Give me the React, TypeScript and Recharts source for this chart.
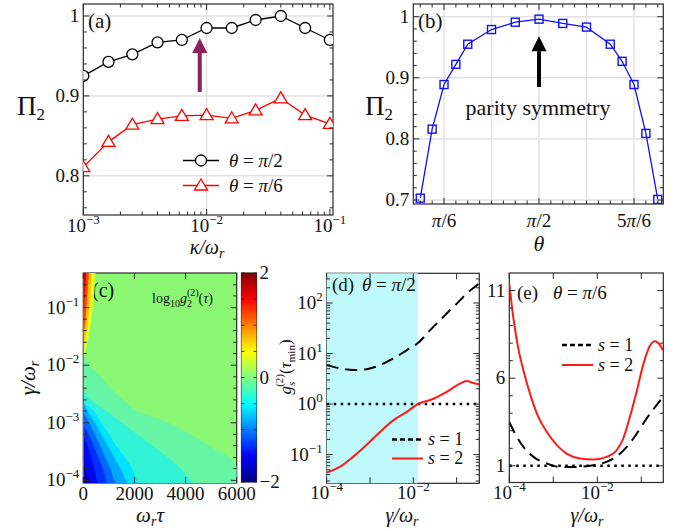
import React from "react";
import {
  ComposedChart,
  Line,
  Area,
  XAxis,
  YAxis,
  CartesianGrid,
  ReferenceLine,
  ReferenceArea,
  Legend,
} from "recharts";

const W = 688;
const H = 531;
const FONT = "'Liberation Serif', 'Times New Roman', serif";
const INK = "#111";
const FRAME = "#2a2a2a";

// (a) Pi_2 against kappa/omega_r
const kappa = [0.001, 0.0016, 0.0025, 0.004, 0.0063, 0.01, 0.016, 0.025, 0.04, 0.063, 0.1];
const piHalfA = [0.925, 0.9425, 0.952, 0.967, 0.97, 0.985, 0.985, 0.995, 1.0, 0.985, 0.97];
const piSixthA = [0.811, 0.8425, 0.864, 0.871, 0.875, 0.876, 0.872, 0.882, 0.897, 0.876, 0.865];
const aXTicks = [0.001, 0.002, 0.003, 0.004, 0.005, 0.006, 0.007, 0.008, 0.009, 0.01, 0.02, 0.03, 0.04, 0.05, 0.06, 0.07, 0.08, 0.09, 0.1];
const aYTicks = [0.76, 0.78, 0.8, 0.82, 0.84, 0.86, 0.88, 0.9, 0.92, 0.94, 0.96, 0.98, 1];

// (b) Pi_2 against theta (degrees)
const thetaDeg = [15, 22.5, 30, 37.5, 45, 60, 75, 90, 105, 120, 135, 142.5, 150, 157.5, 165];
const piB = [0.703, 0.816, 0.889, 0.922, 0.955, 0.979, 0.991, 0.996, 0.989, 0.983, 0.955, 0.927, 0.889, 0.809, 0.701];
const bXTicks = [15, 22.5, 30, 37.5, 45, 52.5, 60, 67.5, 75, 82.5, 90, 97.5, 105, 112.5, 120, 127.5, 135, 142.5, 150, 157.5, 165];
const bYTicks = [0.7, 0.72, 0.74, 0.76, 0.78, 0.8, 0.82, 0.84, 0.86, 0.88, 0.9, 0.92, 0.94, 0.96, 0.98, 1];

// (c) contour levels of log10 g2(tau): for each gamma row, tau where the level is crossed
const heatGamma = [0.00009, 0.0001, 0.00016, 0.00025, 0.0004, 0.00063, 0.001, 0.0016, 0.0025, 0.004, 0.0063, 0.01, 0.016, 0.025, 0.04, 0.063, 0.1, 0.16, 0.25, 0.4];
const lvA = [6000, 6000, 6000, 5700, 4880, 4180, 3300, 2100, 1550, 1050, 690, 220, 60, 0, 0, 0, 0, 0, 0, 0];
const lvB = [4300, 4200, 3800, 3300, 2700, 2100, 1500, 900, 300, 0, 0, 0, 0, 0, 0, 0, 0, 0, 0, 0];
const lvC = [2150, 2100, 1900, 1630, 1280, 1000, 700, 400, 0, 0, 0, 0, 0, 0, 0, 0, 0, 0, 0, 0];
const lvD = [1700, 1650, 1450, 1200, 950, 700, 450, 150, 0, 0, 0, 0, 0, 0, 0, 0, 0, 0, 0, 0];
const lvE = [1250, 1200, 1050, 850, 650, 440, 220, 0, 0, 0, 0, 0, 0, 0, 0, 0, 0, 0, 0, 0];
const lvF = [900, 880, 750, 580, 400, 200, 0, 0, 0, 0, 0, 0, 0, 0, 0, 0, 0, 0, 0, 0];
const lvG = [540, 520, 420, 300, 160, 0, 0, 0, 0, 0, 0, 0, 0, 0, 0, 0, 0, 0, 0, 0];
const lvH = [280, 250, 60, 0, 0, 0, 0, 0, 0, 0, 0, 0, 0, 0, 0, 0, 0, 0, 0, 0];
const lvR1 = [0, 0, 0, 0, 0, 0, 0, 0, 0, 0, 0, 0, 50, 160, 240, 310, 360, 410, 440, 470];
const lvR2 = [0, 0, 0, 0, 0, 0, 0, 0, 0, 0, 0, 0, 0, 50, 130, 180, 230, 275, 295, 310];
const lvR3 = [0, 0, 0, 0, 0, 0, 0, 0, 0, 0, 0, 0, 0, 0, 20, 80, 110, 150, 180, 210];
const lvR4 = [0, 0, 0, 0, 0, 0, 0, 0, 0, 0, 0, 0, 0, 0, 0, 0, 10, 45, 70, 100];
const heatLevels = [
  { key: "A", vals: lvA, color: "#66f6a6" },
  { key: "B", vals: lvB, color: "#33f3d6" },
  { key: "C", vals: lvC, color: "#00e4ff" },
  { key: "D", vals: lvD, color: "#00a8ff" },
  { key: "E", vals: lvE, color: "#0068ff" },
  { key: "F", vals: lvF, color: "#0030ff" },
  { key: "G", vals: lvG, color: "#0008ee" },
  { key: "H", vals: lvH, color: "#0000b8" },
  { key: "R1", vals: lvR1, color: "#dcff26" },
  { key: "R2", vals: lvR2, color: "#ffc000" },
  { key: "R3", vals: lvR3, color: "#ff4400" },
  { key: "R4", vals: lvR4, color: "#cc0000" },
];
const cYTicks = [0.0001, 0.00016, 0.00025, 0.0004, 0.00063, 0.001, 0.0016, 0.0025, 0.004, 0.0063, 0.01, 0.016, 0.025, 0.04, 0.063, 0.1, 0.16, 0.25];
const cXTicks = [0, 2000, 4000, 6000];
const barTicks = [-2, -1.5, -1, -0.5, 0, 0.5, 1, 1.5, 2];
const barSpan = [{ x: 0, top: 2 }, { x: 1, top: 2 }];

// (d) theta = pi/2
const dGamma = [0.0001, 0.0002, 0.00041, 0.00083, 0.0017, 0.0035, 0.0071, 0.0126, 0.0245, 0.059, 0.126, 0.17, 0.24, 0.33];
const dS1 = [5.9, 5.1, 4.7, 4.9, 5.9, 8.0, 11.7, 15.9, 29, 62, 118, 155, 195, 245];
const dS2 = [0.044, 0.057, 0.091, 0.155, 0.28, 0.48, 0.7, 1.0, 1.2, 1.75, 2.6, 2.85, 2.6, 2.45];
const dYTicks = [0.03, 0.04, 0.05, 0.06, 0.07, 0.08, 0.09, 0.1, 0.2, 0.3, 0.4, 0.5, 0.6, 0.7, 0.8, 0.9, 1, 2, 3, 4, 5, 6, 7, 8, 9, 10, 20, 30, 40, 50, 60, 70, 80, 90, 100, 200, 300];
const decTicks = [0.0001, 0.001, 0.01, 0.1];

// (e) theta = pi/6
const eGammaS2 = [0.0001, 0.000123, 0.000158, 0.000209, 0.000295, 0.000457, 0.000708, 0.0012, 0.002, 0.00407, 0.00813, 0.0162, 0.0275, 0.0389, 0.055, 0.0794, 0.112, 0.158, 0.204, 0.269, 0.31];
const eS2 = [11.38, 9.48, 7.77, 6.45, 5.12, 3.79, 2.94, 2.18, 1.7, 1.42, 1.36, 1.51, 1.89, 2.56, 3.79, 5.3, 6.83, 7.87, 8.11, 7.87, 7.59];
const eGammaS1 = [0.0001, 0.000148, 0.000209, 0.000355, 0.000708, 0.00141, 0.00339, 0.00813, 0.0162, 0.0331, 0.0661, 0.132, 0.31];
const eS1 = [3.5, 2.65, 2.08, 1.51, 1.14, 0.94, 0.94, 1.04, 1.23, 1.7, 2.56, 3.7, 4.93];
const eYTicks = [1, 2, 3, 4, 5, 6, 7, 8, 9, 10, 11];

type Fr = { l: number; r: number; t: number; b: number };
type Lab = (v: number) => React.ReactNode | null;

const pow = (e: number) => (
  <>
    <tspan>10</tspan>
    <tspan dy={-8} fontSize={13}>{e < 0 ? "\u2212" + -e : String(e)}</tspan>
  </>
);
const it = (s: string) => <tspan fontStyle="italic">{s}</tspan>;

const labeler = (pairs: [number, React.ReactNode][]): Lab => (v) => {
  const hit = pairs.find((p) => p[0] === v);
  return hit ? hit[1] : null;
};

const XTick = (props: any) => {
  const { x, payload, fr, lab, dy = 17 } = props;
  const node = lab(payload.value);
  const len = node !== null ? 6 : 3.5;
  return (
    <g>
      <line x1={x} x2={x} y1={fr.b} y2={fr.b - len} stroke={FRAME} />
      <line x1={x} x2={x} y1={fr.t} y2={fr.t + len} stroke={FRAME} />
      {node ? (
        <text x={x} y={fr.b + dy} textAnchor="middle" fontFamily={FONT} fontSize={19} fill={INK}>
          {node}
        </text>
      ) : null}
    </g>
  );
};

const YTick = (props: any) => {
  const { y, payload, fr, lab } = props;
  const node = lab(payload.value);
  const len = node !== null ? 6 : 3.5;
  return (
    <g>
      <line x1={fr.l} x2={fr.l + len} y1={y} y2={y} stroke={FRAME} />
      <line x1={fr.r} x2={fr.r - len} y1={y} y2={y} stroke={FRAME} />
      {node ? (
        <text x={fr.l - 4} y={y + 6} textAnchor="end" fontFamily={FONT} fontSize={19} fill={INK}>
          {node}
        </text>
      ) : null}
    </g>
  );
};

const BarTick = (props: any) => {
  const { y, payload, fr } = props;
  const v = payload.value;
  const show = v === -2 || v === 0 || v === 2;
  return (
    <g>
      <line x1={fr.l} x2={fr.l + 3} y1={y} y2={y} stroke={FRAME} />
      <line x1={fr.r} x2={fr.r - 3} y1={y} y2={y} stroke={FRAME} />
      {show ? (
        <text x={fr.r + 3} y={y + 6} fontFamily={FONT} fontSize={19} fill={INK}>
          {v < 0 ? "\u2212" + -v : String(v)}
        </text>
      ) : null}
    </g>
  );
};

const Box = ({ fr }: { fr: Fr }) => (
  <rect x={fr.l} y={fr.t} width={fr.r - fr.l} height={fr.b - fr.t} fill="none" stroke={FRAME} strokeWidth={1.2} />
);

const arrowShape = (color: string) => (p: any) => {
  const tipY = Math.min(p.y1, p.y2);
  const baseY = Math.max(p.y1, p.y2);
  const x = p.x1;
  const neck = tipY + 15;
  return (
    <g>
      <line x1={x} x2={x} y1={baseY} y2={neck} stroke={color} strokeWidth={4} />
      <polygon points={`${x - 7.5},${neck} ${x + 7.5},${neck} ${x},${tipY}`} fill={color} />
    </g>
  );
};

const Circ = (p: any) => (
  <circle key={p.index} cx={p.cx} cy={p.cy} r={5.5} fill="#fff" stroke="#000" strokeWidth={1.3} />
);
const Tri = (p: any) => (
  <path
    key={p.index}
    d={`M${p.cx},${p.cy - 6.5} L${p.cx + 6.5},${p.cy + 4.5} L${p.cx - 6.5},${p.cy + 4.5} Z`}
    fill="#fff"
    stroke="#ff0000"
    strokeWidth={1.3}
  />
);
const Sq = (p: any) => (
  <rect key={p.index} x={p.cx - 4} y={p.cy - 4} width={8} height={8} fill="none" stroke="#1010ff" strokeWidth={1.4} />
);

// legend drawn as an html overlay by recharts' Legend
type Row = { sample: React.ReactNode; label: React.ReactNode };
const LegendRows = ({ rows, h, sw, gap, fs }: { rows: Row[]; h: number; sw: number; gap: number; fs: number }) => (
  <div>
    {rows.map((r, i) => (
      <div key={i} style={{ display: "flex", alignItems: "center", height: h }}>
        <svg width={sw} height={h} style={{ display: "block" }}>{r.sample}</svg>
        <span style={{ fontFamily: FONT, fontSize: fs, color: INK, marginLeft: gap, lineHeight: 1, whiteSpace: "nowrap" }}>{r.label}</span>
      </div>
    ))}
  </div>
);

const XH = 30;
const YW = 40;
const marginFor = (fr: Fr) => ({ top: fr.t, bottom: H - fr.b - XH, left: fr.l - YW, right: W - fr.r });
const abs: React.CSSProperties = { position: "absolute", left: 0, top: 0 };
const txt = { fontFamily: FONT, fill: INK } as const;

function PanelA() {
  const fr = { l: 83.3, r: 333, t: 4, b: 215 };
  const data = kappa.map((k, i) => ({ k, h: piHalfA[i], s: piSixthA[i] }));
  const xl = labeler([[0.001, pow(-3)], [0.01, pow(-2)], [0.1, pow(-1)]]);
  const yl = labeler([[0.8, "0.8"], [0.9, "0.9"], [1, "1"]]);
  const rows: Row[] = [
    {
      sample: (
        <>
          <line x1={0} x2={36} y1={12.5} y2={12.5} stroke="#000" strokeWidth={1.3} />
          <circle cx={18} cy={12.5} r={5.5} fill="#fff" stroke="#000" strokeWidth={1.3} />
        </>
      ),
      label: <><i>θ</i> = <i>π</i>/2</>,
    },
    {
      sample: (
        <>
          <line x1={0} x2={36} y1={12.5} y2={12.5} stroke="#ff0000" strokeWidth={1.3} />
          <path d="M18,6 L24.5,17 L11.5,17 Z" fill="#fff" stroke="#ff0000" strokeWidth={1.3} />
        </>
      ),
      label: <><i>θ</i> = <i>π</i>/6</>,
    },
  ];
  return (
    <ComposedChart width={W} height={H} data={data} margin={marginFor(fr)}>
      <CartesianGrid stroke="#e2e2e2" strokeWidth={1.5} horizontalValues={[0.8, 0.9, 1]} verticalValues={[0.01]} />
      <XAxis dataKey="k" type="number" scale="log" domain={[0.001, 0.106]} allowDataOverflow ticks={aXTicks} interval={0} height={XH} tickLine={false} axisLine={false} tick={<XTick fr={fr} lab={xl} />} />
      <YAxis type="number" domain={[0.751, 1.015]} allowDataOverflow ticks={aYTicks} interval={0} width={YW} tickLine={false} axisLine={false} tick={<YTick fr={fr} lab={yl} />} />
      <ReferenceLine segment={[{ x: 0.0088, y: 0.905 }, { x: 0.0088, y: 0.9725 }]} shape={arrowShape("#8c1f5c")} />
      <Line dataKey="h" type="linear" stroke="#000" strokeWidth={1.3} dot={Circ} isAnimationActive={false} />
      <Line dataKey="s" type="linear" stroke="#ff0000" strokeWidth={1.3} dot={Tri} isAnimationActive={false} />
      <Legend
        layout="vertical"
        align="center"
        verticalAlign="middle"
        wrapperStyle={{ left: 183, top: 148, width: "auto", height: "auto" }}
        content={() => <LegendRows rows={rows} h={25} sw={36} gap={10} fs={19} />}
      />
      <Box fr={fr} />
      <text x={88} y={28} fontSize={21} {...txt}>(a)</text>
      <text x={17} y={115} fontSize={27} {...txt}>Π<tspan dy={5} fontSize={17}>2</tspan></text>
      <text x={207} y={254} textAnchor="middle" fontSize={20} {...txt}>{it("κ/ω")}<tspan dy={4} fontSize={14} fontStyle="italic">r</tspan></text>
    </ComposedChart>
  );
}

function PanelB() {
  const fr = { l: 413.3, r: 663.3, t: 4, b: 204 };
  const data = thetaDeg.map((t, i) => ({ t, p: piB[i] }));
  const xl = labeler([[30, <>{it("π")}/6</>], [90, <>{it("π")}/2</>], [150, <>5{it("π")}/6</>]]);
  const yl = labeler([[0.7, "0.7"], [0.8, "0.8"], [0.9, "0.9"], [1, "1"]]);
  return (
    <ComposedChart width={W} height={H} data={data} margin={marginFor(fr)}>
      <CartesianGrid stroke="#e2e2e2" strokeWidth={1.5} horizontalValues={[0.7, 0.8, 0.9, 1]} verticalValues={[30, 60, 90, 120, 150]} />
      <XAxis dataKey="t" type="number" domain={[10.6, 168.5]} allowDataOverflow ticks={bXTicks} interval={0} height={XH} tickLine={false} axisLine={false} tick={<XTick fr={fr} lab={xl} dy={23} />} />
      <YAxis type="number" domain={[0.6935, 1.0208]} allowDataOverflow ticks={bYTicks} interval={0} width={YW} tickLine={false} axisLine={false} tick={<YTick fr={fr} lab={yl} />} />
      <ReferenceLine segment={[{ x: 90, y: 0.885 }, { x: 90, y: 0.968 }]} shape={arrowShape("#000")} />
      <Line dataKey="p" type="linear" stroke="#1010ff" strokeWidth={1.3} dot={Sq} isAnimationActive={false} />
      <Box fr={fr} />
      <text x={418} y={28} fontSize={21} {...txt}>(b)</text>
      <text x={538} y={115} textAnchor="middle" fontSize={22} {...txt}>parity symmetry</text>
      <text x={365} y={115} fontSize={27} {...txt}>Π<tspan dy={5} fontSize={17}>2</tspan></text>
      <text x={539} y={251} textAnchor="middle" fontSize={22} {...txt}>{it("θ")}</text>
    </ComposedChart>
  );
}

function PanelC() {
  const fr = { l: 83.3, r: 236.7, t: 273, b: 483 };
  const data = heatGamma.map((g, i) => {
    const row: Record<string, number> = { g };
    heatLevels.forEach((lv) => (row[lv.key] = lv.vals[i]));
    return row;
  });
  const xl = labeler([[0, "0"], [2000, "2000"], [4000, "4000"], [6000, "6000"]]);
  const yl = labeler([[0.0001, pow(-4)], [0.001, pow(-3)], [0.01, pow(-2)], [0.1, pow(-1)]]);
  return (
    <ComposedChart width={W} height={H} data={data} layout="vertical" margin={marginFor(fr)}>
      <CartesianGrid fill="#8bf874" horizontal={false} vertical={false} />
      <XAxis type="number" domain={[0, 6000]} allowDataOverflow ticks={cXTicks} interval={0} height={XH} tickLine={false} axisLine={false} tick={<XTick fr={fr} lab={xl} dy={17} />} />
      <YAxis type="number" dataKey="g" scale="log" reversed domain={[0.00009, 0.4]} allowDataOverflow ticks={cYTicks} interval={0} width={YW} tickLine={false} axisLine={false} tick={<YTick fr={fr} lab={yl} />} />
      {heatLevels.map((lv) => (
        <Area key={lv.key} dataKey={lv.key} type="monotone" fill={lv.color} fillOpacity={1} stroke={lv.color} strokeWidth={0.5} dot={false} activeDot={false} isAnimationActive={false} />
      ))}
      <Box fr={fr} />
      <text x={92} y={297} fontSize={20} {...txt}>(c)</text>
      <text x={152} y={303} fontSize={14} {...txt}>
        log<tspan dy={4} fontSize={10}>10</tspan>
        <tspan dy={-4} fontStyle="italic">g</tspan>
        <tspan dy={4} fontSize={10}>2</tspan>
        <tspan dx={-5} dy={-11} fontSize={10}>(2)</tspan>
        <tspan dy={7}>(</tspan>
        <tspan fontStyle="italic">τ</tspan>)
      </text>
      <text x={150} y={522} textAnchor="middle" fontSize={21} {...txt}>
        {it("ω")}<tspan dy={4} fontSize={14} fontStyle="italic">r</tspan><tspan dy={-4} fontStyle="italic">τ</tspan>
      </text>
      <text x={35} y={378} textAnchor="middle" fontSize={21} transform="rotate(-90 35 378)" {...txt}>
        {it("γ/ω")}<tspan dy={4} fontSize={14} fontStyle="italic">r</tspan>
      </text>
    </ComposedChart>
  );
}

function ColorBar() {
  const fr = { l: 241.5, r: 256.5, t: 273, b: 482 };
  return (
    <ComposedChart width={W} height={H} data={barSpan} margin={{ top: fr.t, bottom: H - fr.b, left: fr.l, right: W - fr.r - YW }}>
      <defs>
        <linearGradient id="jet" x1="0" y1="1" x2="0" y2="0">
          <stop offset="0" stopColor="#000080" />
          <stop offset="0.125" stopColor="#0000ff" />
          <stop offset="0.375" stopColor="#00ffff" />
          <stop offset="0.5" stopColor="#80ff80" />
          <stop offset="0.625" stopColor="#ffff00" />
          <stop offset="0.875" stopColor="#ff0000" />
          <stop offset="1" stopColor="#800000" />
        </linearGradient>
      </defs>
      <XAxis dataKey="x" type="number" domain={[0, 1]} hide />
      <YAxis type="number" orientation="right" domain={[-2, 2]} allowDataOverflow ticks={barTicks} interval={0} width={YW} tickLine={false} axisLine={false} tick={<BarTick fr={fr} />} />
      <Area dataKey="top" type="linear" baseValue={-2} fill="url(#jet)" fillOpacity={1} stroke="none" dot={false} activeDot={false} isAnimationActive={false} />
      <Box fr={fr} />
    </ComposedChart>
  );
}

const dLegend: Row[] = [
  { sample: <line x1={0} x2={31} y1={9.5} y2={9.5} stroke="#000" strokeWidth={2.5} strokeDasharray="5 3" />, label: <><i>s</i> = 1</> },
  { sample: <line x1={0} x2={31} y1={9.5} y2={9.5} stroke="#ff1a1a" strokeWidth={2} />, label: <><i>s</i> = 2</> },
];

// title of panel (d), drawn in the shaded area's label layer so it sits above the shading
const DTitle = () => (
  <g>
    <text x={332} y={291} fontSize={19} {...txt}>(d)</text>
    <text x={362} y={291} fontSize={19} {...txt}>{it("θ")} = {it("π")}/2</text>
  </g>
);

function PanelD() {
  const fr = { l: 326.7, r: 479.3, t: 273.3, b: 483.3 };
  const s1 = dGamma.map((g, i) => ({ g, v: dS1[i] }));
  const s2 = dGamma.map((g, i) => ({ g, v: dS2[i] }));
  const xl = labeler([[0.0001, pow(-4)], [0.001, ""], [0.01, pow(-2)], [0.1, ""]]);
  const yl = labeler([[0.1, pow(-1)], [1, pow(0)], [10, pow(1)], [100, pow(2)]]);
  return (
    <ComposedChart width={W} height={H} margin={marginFor(fr)}>
      <XAxis dataKey="g" type="number" scale="log" domain={[0.0001, 0.334]} allowDataOverflow ticks={decTicks} interval={0} height={XH} tickLine={false} axisLine={false} tick={<XTick fr={fr} lab={xl} dy={16} />} />
      <YAxis type="number" scale="log" domain={[0.027, 387]} allowDataOverflow ticks={dYTicks} interval={0} width={YW} tickLine={false} axisLine={false} tick={<YTick fr={fr} lab={yl} />} />
      <ReferenceArea x1={0.0001} x2={0.0128} y1={0.027} y2={387} fill="#bff9fa" fillOpacity={1} stroke="none" label={<DTitle />} />
      <ReferenceLine y={1} stroke="#000" strokeWidth={2.5} strokeDasharray="2.5 4.5" />
      <Line data={s1} dataKey="v" type="monotone" stroke="#000" strokeWidth={2} strokeDasharray="12 7" dot={false} isAnimationActive={false} />
      <Line data={s2} dataKey="v" type="monotone" stroke="#ff1a1a" strokeWidth={2} dot={false} isAnimationActive={false} />
      <Legend
        layout="vertical"
        align="center"
        verticalAlign="middle"
        wrapperStyle={{ left: 392, top: 429.5, width: "auto", height: "auto" }}
        content={() => <LegendRows rows={dLegend} h={19} sw={31} gap={5} fs={18} />}
      />
      <Box fr={fr} />
      <text x={402} y={522} textAnchor="middle" fontSize={20} {...txt}>
        {it("γ/ω")}<tspan dy={4} fontSize={14} fontStyle="italic">r</tspan>
      </text>
      <text x={291} y={367} textAnchor="middle" fontSize={17} transform="rotate(-90 291 367)" {...txt}>
        {it("g")}<tspan dy={4} fontSize={11} fontStyle="italic">s</tspan>
        <tspan dx={-5} dy={-12} fontSize={11}>(2)</tspan>
        <tspan dy={8}>(</tspan>{it("τ")}<tspan dy={4} fontSize={11}>min</tspan><tspan dy={-4}>)</tspan>
      </text>
    </ComposedChart>
  );
}

const eLegend: Row[] = [
  { sample: <line x1={0} x2={31} y1={10} y2={10} stroke="#000" strokeWidth={2.5} strokeDasharray="5 3" />, label: <><i>s</i> = 1</> },
  { sample: <line x1={0} x2={31} y1={10} y2={10} stroke="#ff1a1a" strokeWidth={2} />, label: <><i>s</i> = 2</> },
];

function PanelE() {
  const fr = { l: 509.3, r: 663.3, t: 273, b: 482.5 };
  const s1 = eGammaS1.map((g, i) => ({ g, v: eS1[i] }));
  const s2 = eGammaS2.map((g, i) => ({ g, v: eS2[i] }));
  const xl = labeler([[0.0001, pow(-4)], [0.001, ""], [0.01, pow(-2)], [0.1, ""]]);
  const yl = labeler([[1, "1"], [6, "6"], [11, "11"]]);
  return (
    <ComposedChart width={W} height={H} margin={marginFor(fr)}>
      <XAxis dataKey="g" type="number" scale="log" domain={[0.0001, 0.316]} allowDataOverflow ticks={decTicks} interval={0} height={XH} tickLine={false} axisLine={false} tick={<XTick fr={fr} lab={xl} dy={16} />} />
      <YAxis type="number" domain={[0.05, 12]} allowDataOverflow ticks={eYTicks} interval={0} width={YW} tickLine={false} axisLine={false} tick={<YTick fr={fr} lab={yl} />} />
      <ReferenceLine y={1} stroke="#000" strokeWidth={2.5} strokeDasharray="2.5 4.5" />
      <Line data={s1} dataKey="v" type="monotone" stroke="#000" strokeWidth={2} strokeDasharray="12 7" dot={false} isAnimationActive={false} />
      <Line data={s2} dataKey="v" type="monotone" stroke="#ff1a1a" strokeWidth={2} dot={false} isAnimationActive={false} />
      <Legend
        layout="vertical"
        align="center"
        verticalAlign="middle"
        wrapperStyle={{ left: 562, top: 335, width: "auto", height: "auto" }}
        content={() => <LegendRows rows={eLegend} h={20} sw={31} gap={5} fs={18} />}
      />
      <Box fr={fr} />
      <text x={517} y={299} fontSize={19} {...txt}>(e)</text>
      <text x={553} y={299} fontSize={19} {...txt}>{it("θ")} = {it("π")}/6</text>
      <text x={587} y={522} textAnchor="middle" fontSize={20} {...txt}>
        {it("γ/ω")}<tspan dy={4} fontSize={14} fontStyle="italic">r</tspan>
      </text>
    </ComposedChart>
  );
}

export default function App() {
  return (
    <div style={{ position: "absolute", left: 0, top: 0, width: W, height: H, background: "#fff", overflow: "hidden" }}>
      <div style={abs}><PanelC /></div>
      <div style={abs}><ColorBar /></div>
      <div style={abs}><PanelD /></div>
      <div style={abs}><PanelE /></div>
      <div style={abs}><PanelA /></div>
      <div style={abs}><PanelB /></div>
    </div>
  );
}
